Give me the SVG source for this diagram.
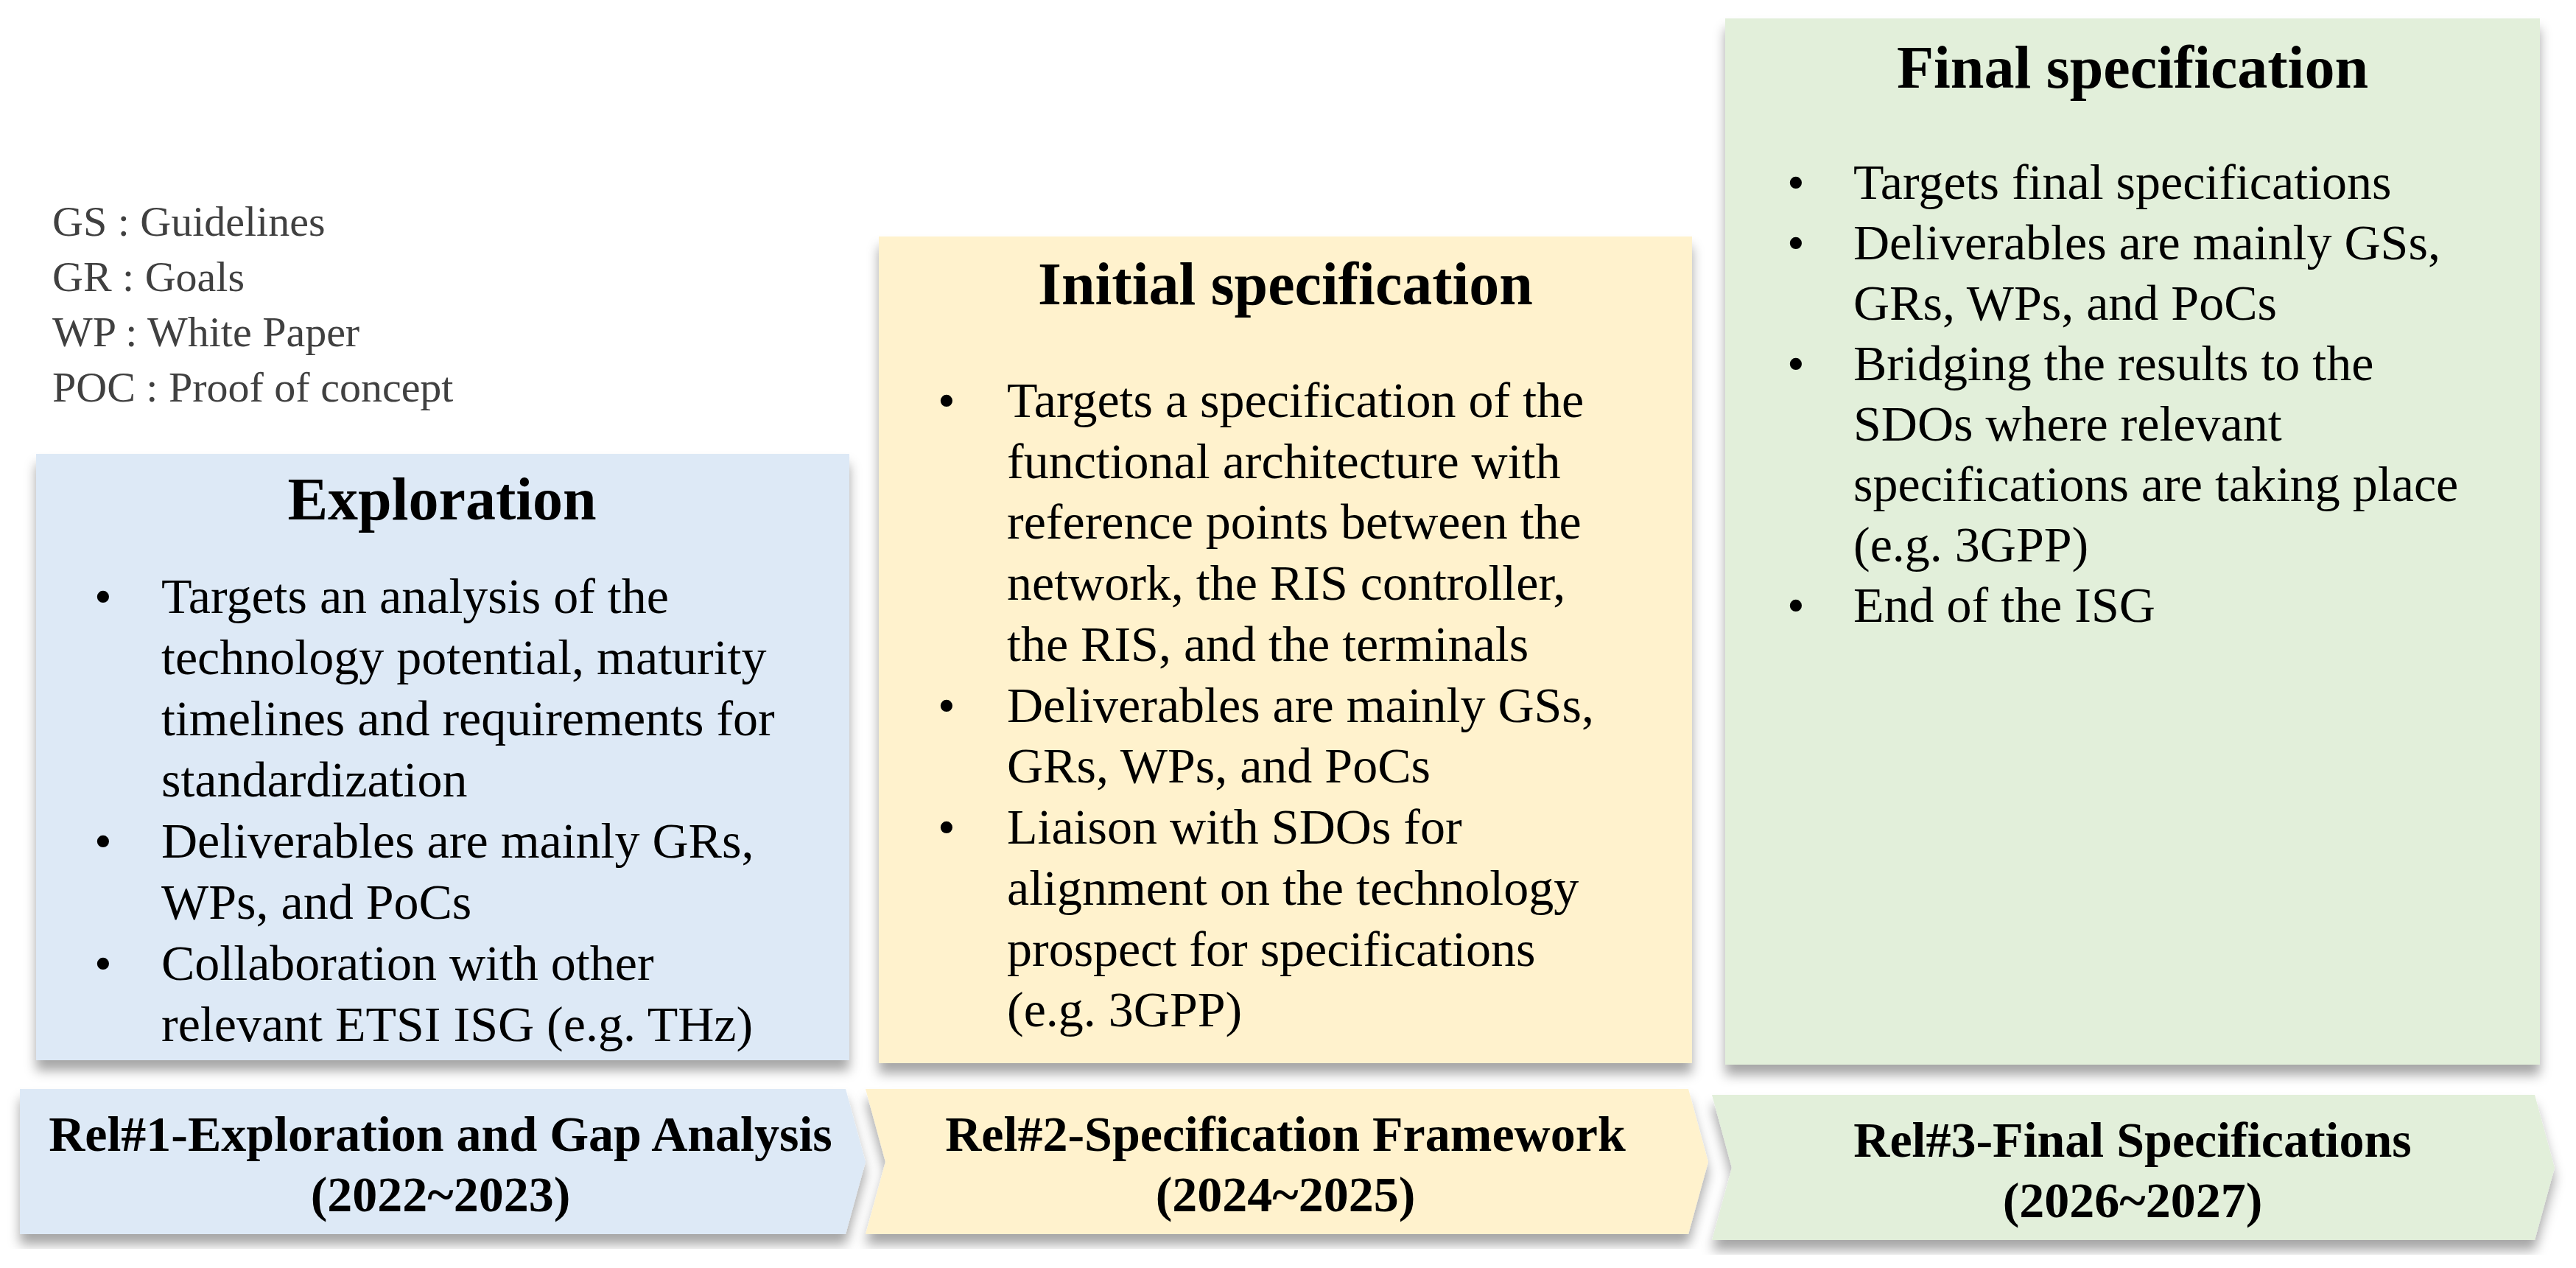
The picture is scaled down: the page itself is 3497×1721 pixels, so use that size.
<svg xmlns="http://www.w3.org/2000/svg" width="3497" height="1721" viewBox="0 0 3497 1721">
<defs>
<filter id="sh" x="-5%" y="-5%" width="110%" height="115%"><feDropShadow dx="0" dy="14" stdDeviation="8" flood-color="#000" flood-opacity="0.35"/></filter>
<style>
.t{font-family:"Liberation Serif",serif;fill:#000}
.h{font-size:82px;font-weight:bold;text-anchor:middle}
.b{font-size:68px}
.r{font-size:68px;font-weight:bold;text-anchor:middle}
.lg{font-family:"Liberation Serif",serif;font-size:58px;fill:#404040}
.blue{fill:#dde9f6}.yel{fill:#fff2cd}.grn{fill:#e2efda}
</style>
</defs>
<rect width="3497" height="1721" fill="#fff"/>
<g id="legend" class="lg">
<text x="71" y="320">GS : Guidelines</text>
<text x="71" y="395">GR : Goals</text>
<text x="71" y="470">WP : White Paper</text>
<text x="71" y="545">POC : Proof of concept</text>
</g>
<g id="exploration">
<rect class="blue" x="49" y="616" width="1104" height="823" filter="url(#sh)"/>
<text class="t h" x="600" y="705">Exploration</text>
<g class="t b">
<text x="128" y="832">•</text><text x="219" y="832">Targets an analysis of the</text>
<text x="219" y="915">technology potential, maturity</text>
<text x="219" y="998">timelines and requirements for</text>
<text x="219" y="1081">standardization</text>
<text x="128" y="1164">•</text><text x="219" y="1164">Deliverables are mainly GRs,</text>
<text x="219" y="1247">WPs, and PoCs</text>
<text x="128" y="1330">•</text><text x="219" y="1330">Collaboration with other</text>
<text x="219" y="1413">relevant ETSI ISG (e.g. THz)</text>
</g>
</g>
<g id="initial">
<rect class="yel" x="1193" y="321" width="1104" height="1122" filter="url(#sh)"/>
<text class="t h" x="1745" y="413">Initial specification</text>
<g class="t b">
<text x="1273" y="566">•</text><text x="1367" y="566">Targets a specification of the</text>
<text x="1367" y="649">functional architecture with</text>
<text x="1367" y="731">reference points between the</text>
<text x="1367" y="814">network, the RIS controller,</text>
<text x="1367" y="897">the RIS, and the terminals</text>
<text x="1273" y="980">•</text><text x="1367" y="980">Deliverables are mainly GSs,</text>
<text x="1367" y="1062">GRs, WPs, and PoCs</text>
<text x="1273" y="1145">•</text><text x="1367" y="1145">Liaison with SDOs for</text>
<text x="1367" y="1228">alignment on the technology</text>
<text x="1367" y="1311">prospect for specifications</text>
<text x="1367" y="1393">(e.g. 3GPP)</text>
</g>
</g>
<g id="final">
<rect class="grn" x="2342" y="25" width="1106" height="1420" filter="url(#sh)"/>
<text class="t h" x="2895" y="119">Final specification</text>
<g class="t b">
<text x="2426" y="270">•</text><text x="2516" y="270">Targets final specifications</text>
<text x="2426" y="352">•</text><text x="2516" y="352">Deliverables are mainly GSs,</text>
<text x="2516" y="434">GRs, WPs, and PoCs</text>
<text x="2426" y="516">•</text><text x="2516" y="516">Bridging the results to the</text>
<text x="2516" y="598">SDOs where relevant</text>
<text x="2516" y="680">specifications are taking place</text>
<text x="2516" y="762">(e.g. 3GPP)</text>
<text x="2426" y="844">•</text><text x="2516" y="844">End of the ISG</text>
</g>
</g>
<g id="rel1">
<polygon class="blue" points="27,1478 1148,1478 1175,1577 1148,1675 27,1675" filter="url(#sh)"/>
<text class="t r" x="598" y="1562">Rel#1-Exploration and Gap Analysis</text>
<text class="t r" x="598" y="1644">(2022~2023)</text>
</g>
<g id="rel2">
<polygon class="yel" points="1175,1478 2292,1478 2319,1577 2292,1675 1175,1675 1202,1577" filter="url(#sh)"/>
<text class="t r" x="1745" y="1562">Rel#2-Specification Framework</text>
<text class="t r" x="1745" y="1644">(2024~2025)</text>
</g>
<g id="rel3">
<polygon class="grn" points="2324,1486 3441,1486 3468,1585 3441,1683 2324,1683 2351,1585" filter="url(#sh)"/>
<text class="t r" x="2895" y="1570">Rel#3-Final Specifications</text>
<text class="t r" x="2895" y="1652">(2026~2027)</text>
</g>
<g id="connectors"/>
</svg>
